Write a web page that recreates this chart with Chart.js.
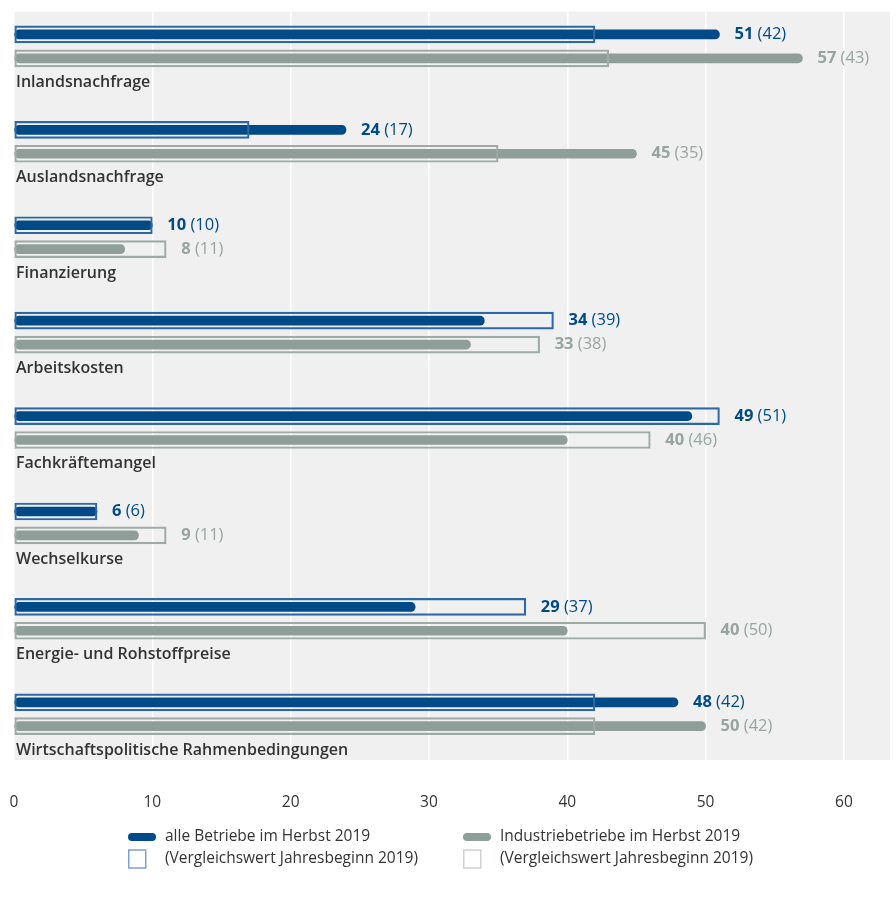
<!DOCTYPE html>
<html>
<head>
<meta charset="utf-8">
<script src="https://cdn.jsdelivr.net/npm/chart.js@4/dist/chart.umd.min.js"></script>
<style>
  html, body { margin: 0; padding: 0; background: #ffffff; }
  #wrap { position: relative; width: 896px; height: 901px; }
</style>
</head>
<body>
<div id="wrap"><canvas id="chart"></canvas></div>
<script>
// ---- data ----
const categories = [
  'Inlandsnachfrage',
  'Auslandsnachfrage',
  'Finanzierung',
  'Arbeitskosten',
  'Fachkräftemangel',
  'Wechselkurse',
  'Energie- und Rohstoffpreise',
  'Wirtschaftspolitische Rahmenbedingungen'
];
const alleHerbst2019 = [51, 24, 10, 34, 49, 6, 29, 48];
const alleJahresbeginn2019 = [42, 17, 10, 39, 51, 6, 37, 42];
const industrieHerbst2019 = [57, 45, 8, 33, 40, 9, 40, 50];
const industrieJahresbeginn2019 = [43, 35, 11, 38, 46, 11, 50, 42];
const xTickValues = [0, 10, 20, 30, 40, 50, 60];
const legendLabels = [
  'alle Betriebe im Herbst 2019',
  'Industriebetriebe im Herbst 2019',
  '(Vergleichswert Jahresbeginn 2019)',
  '(Vergleichswert Jahresbeginn 2019)'
];

// ---- style ----
const BLUE = '#004b87';
const BLUE_OUTLINE = '#2f67a5';
const GRAY = '#8f9e98';
const GRAY_OUTLINE = '#9eaaa5';
const GRAY_TEXT = '#98a59f';
const TEXT = '#333333';
const BG = '#f0f0f0';
const FONT = "'Open Sans', sans-serif";
const ROWS = 4; // rows per category: blue, gray, label, spacer

const rowData = (vals, offset) => vals.map((v, i) => ({ x: v, y: i * ROWS + offset }));

const bgPlugin = {
  id: 'bg',
  beforeDraw(chart) {
    const { ctx, chartArea: a } = chart;
    ctx.save();
    ctx.fillStyle = BG;
    ctx.fillRect(a.left, a.top, a.right - a.left, a.bottom - a.top);
    ctx.restore();
  }
};

const valueLabels = {
  id: 'valueLabels',
  afterDatasetsDraw(chart) {
    const { ctx } = chart;
    const xs = chart.scales.x, ys = chart.scales.y;
    const rows = [
      { cur: alleHerbst2019, prev: alleJahresbeginn2019, off: 0, color: BLUE },
      { cur: industrieHerbst2019, prev: industrieJahresbeginn2019, off: 1, color: GRAY_TEXT }
    ];
    ctx.save();
    ctx.textBaseline = 'middle';
    ctx.textAlign = 'left';
    rows.forEach(r => {
      r.cur.forEach((v, i) => {
        const p = r.prev[i];
        let x = xs.getPixelForValue(Math.max(v, p)) + 15;
        const y = ys.getPixelForValue(i * ROWS + r.off);
        ctx.fillStyle = r.color;
        ctx.font = `700 16.5px ${FONT}`;
        const t1 = String(v);
        ctx.fillText(t1, x, y);
        x += ctx.measureText(t1).width;
        ctx.font = `400 16.5px ${FONT}`;
        ctx.fillText(' (' + p + ')', x, y);
      });
    });
    ctx.restore();
  }
};

const legendPlugin = {
  id: 'customLegend',
  afterDraw(chart) {
    const { ctx, chartArea: a } = chart;
    const y1 = a.bottom + 77, y2 = a.bottom + 99;
    const cols = [128, 463];
    ctx.save();
    ctx.textBaseline = 'middle';
    ctx.textAlign = 'left';
    ctx.font = `500 15.5px ${FONT}`;
    // row 1: filled bars
    [[BLUE, legendLabels[0]], [GRAY, legendLabels[1]]].forEach(([c, t], k) => {
      const x = cols[k];
      ctx.fillStyle = c;
      ctx.beginPath();
      ctx.roundRect(x, y1 - 4, 28, 8, 4);
      ctx.fill();
      ctx.fillStyle = TEXT;
      ctx.fillText(t, x + 37, y1);
    });
    // row 2: outline boxes
    [['#7f9fcf', legendLabels[2]], ['#cdd3d0', legendLabels[3]]].forEach(([c, t], k) => {
      const x = cols[k];
      ctx.strokeStyle = c;
      ctx.lineWidth = 1.5;
      ctx.strokeRect(x + 0.75, y2 - 9, 17, 18);
      ctx.fillStyle = TEXT;
      ctx.fillText(t, x + 37, y2);
    });
    ctx.restore();
  }
};

new Chart(document.getElementById('chart'), {
  type: 'bar',
  data: {
    datasets: [
      {
        label: legendLabels[2] + ' alle',
        data: rowData(alleJahresbeginn2019, 0),
        backgroundColor: 'rgba(0,0,0,0)',
        borderColor: BLUE_OUTLINE,
        borderWidth: 1.5,
        borderSkipped: false,
        barThickness: 17,
        grouped: false
      },
      {
        label: legendLabels[3] + ' Industrie',
        data: rowData(industrieJahresbeginn2019, 1),
        backgroundColor: 'rgba(0,0,0,0)',
        borderColor: GRAY_OUTLINE,
        borderWidth: 1.5,
        borderSkipped: false,
        barThickness: 17,
        grouped: false
      },
      {
        label: legendLabels[0],
        data: rowData(alleHerbst2019, 0),
        backgroundColor: BLUE,
        borderWidth: 0,
        borderRadius: 10,
        borderSkipped: false,
        barThickness: 9,
        grouped: false
      },
      {
        label: legendLabels[1],
        data: rowData(industrieHerbst2019, 1),
        backgroundColor: GRAY,
        borderWidth: 0,
        borderRadius: 10,
        borderSkipped: false,
        barThickness: 9,
        grouped: false
      }
    ]
  },
  options: {
    indexAxis: 'y',
    responsive: true,
    maintainAspectRatio: false,
    animation: false,
    layout: { padding: { top: 7, left: 14, right: 6, bottom: 89 } },
    plugins: {
      legend: { display: false },
      tooltip: { enabled: false }
    },
    scales: {
      x: {
        type: 'linear',
        position: 'bottom',
        min: 0,
        max: 63.33,
        offset: false,
        afterBuildTicks(scale) {
          scale.ticks = xTickValues.map(v => ({ value: v }));
        },
        afterFit(scale) { scale.height = 52; },
        grid: {
          color: '#ffffff', lineWidth: 1.5, offset: false,
          drawTicks: true, tickLength: 31, tickColor: 'rgba(0,0,0,0)'
        },
        border: { display: false },
        ticks: {
          padding: 2,
          color: TEXT,
          font: { family: FONT, size: 15.5, weight: '500' }
        }
      },
      y: {
        type: 'linear',
        reverse: true,
        offset: false,
        min: -0.958,
        max: 30.417,
        afterBuildTicks(scale) {
          scale.ticks = categories.map((c, i) => ({ value: i * ROWS + 2 }));
        },
        afterFit(scale) { scale.width = 0; },
        grid: { display: false, drawTicks: false, offset: false },
        border: { display: false },
        ticks: {
          mirror: true,
          padding: 2,
          color: TEXT,
          font: { family: FONT, size: 16, weight: '600' },
          callback(v) { return categories[Math.round((v - 2) / ROWS)]; }
        }
      }
    }
  },
  plugins: [bgPlugin, valueLabels, legendPlugin]
});
</script>
</body>
</html>
